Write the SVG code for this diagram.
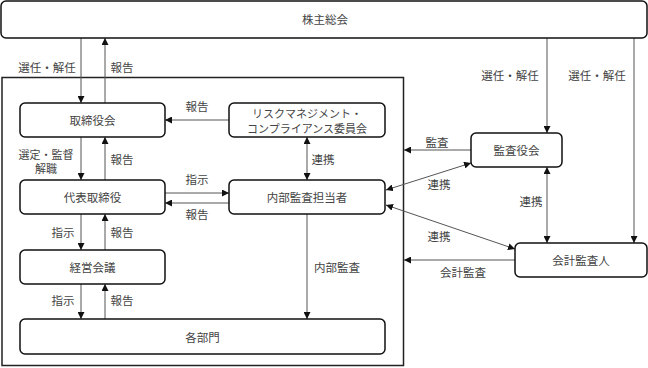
<svg xmlns="http://www.w3.org/2000/svg" width="648" height="368" viewBox="0 0 648 368">
<style>
.box{fill:#fff;stroke:#111;stroke-width:1.5}
.frame{fill:none;stroke:#222;stroke-width:1.5}
.ln{fill:none;stroke:#555;stroke-width:1}
.t{font-family:"Noto Sans CJK JP","Noto Sans CJK SC",sans-serif;font-size:11.5px;fill:#444;text-anchor:middle;dominant-baseline:central}
.s{font-size:11px}
</style>
<defs>
<marker id="ah" viewBox="0 0 10 10" refX="10" refY="5" markerWidth="7" markerHeight="7" markerUnits="userSpaceOnUse" orient="auto-start-reverse">
<path d="M0,0 L10,5 L0,10 z" fill="#111"/>
</marker>
</defs>
<rect width="648" height="368" fill="#fff"/>
<rect class="frame" x="2" y="77.5" width="401.5" height="288"/>
<g id="connectors">
<line class="ln" x1="81" y1="38" x2="81" y2="103" marker-end="url(#ah)"/>
<line class="ln" x1="105" y1="103" x2="105" y2="38" marker-end="url(#ah)"/>
<line class="ln" x1="81" y1="137" x2="81" y2="180" marker-end="url(#ah)"/>
<line class="ln" x1="105" y1="180" x2="105" y2="137" marker-end="url(#ah)"/>
<line class="ln" x1="81" y1="214" x2="81" y2="250" marker-end="url(#ah)"/>
<line class="ln" x1="105" y1="250" x2="105" y2="214" marker-end="url(#ah)"/>
<line class="ln" x1="81" y1="284" x2="81" y2="319" marker-end="url(#ah)"/>
<line class="ln" x1="105" y1="319" x2="105" y2="284" marker-end="url(#ah)"/>
<line class="ln" x1="229" y1="120" x2="165" y2="120" marker-end="url(#ah)"/>
<line class="ln" x1="165" y1="193" x2="229" y2="193" marker-end="url(#ah)"/>
<line class="ln" x1="229" y1="203" x2="165" y2="203" marker-end="url(#ah)"/>
<line class="ln" x1="307" y1="137" x2="307" y2="180" marker-start="url(#ah)" marker-end="url(#ah)"/>
<line class="ln" x1="307" y1="214" x2="307" y2="319" marker-end="url(#ah)"/>
<line class="ln" x1="547" y1="38" x2="547" y2="133" marker-end="url(#ah)"/>
<line class="ln" x1="634" y1="38" x2="634" y2="243" marker-end="url(#ah)"/>
<line class="ln" x1="471" y1="150" x2="404" y2="150" marker-end="url(#ah)"/>
<line class="ln" x1="386" y1="190" x2="471" y2="163" marker-start="url(#ah)" marker-end="url(#ah)"/>
<line class="ln" x1="547" y1="167" x2="547" y2="243" marker-start="url(#ah)" marker-end="url(#ah)"/>
<line class="ln" x1="386" y1="205" x2="515" y2="249" marker-start="url(#ah)" marker-end="url(#ah)"/>
<line class="ln" x1="515" y1="260" x2="404" y2="260" marker-end="url(#ah)"/>
<text class="t" x="47" y="67">選任・解任</text>
<text class="t" x="122" y="67">報告</text>
<text class="t" x="197" y="106">報告</text>
<text class="t s" x="46" y="153.5">選定・監督</text>
<text class="t s" x="46" y="168">解職</text>
<text class="t" x="122" y="159">報告</text>
<text class="t" x="323" y="159">連携</text>
<text class="t" x="197" y="179">指示</text>
<text class="t" x="197" y="214">報告</text>
<text class="t" x="63" y="232">指示</text>
<text class="t" x="122" y="232">報告</text>
<text class="t" x="337" y="267">内部監査</text>
<text class="t" x="63" y="300">指示</text>
<text class="t" x="122" y="300">報告</text>
<text class="t" x="510" y="75">選任・解任</text>
<text class="t" x="597" y="75">選任・解任</text>
<text class="t" x="437" y="142">監査</text>
<text class="t" x="439" y="184">連携</text>
<text class="t" x="531" y="201">連携</text>
<text class="t" x="439" y="236">連携</text>
<text class="t" x="463" y="272">会計監査</text>
</g>
<g id="n-kabunushi"><rect class="box" x="1" y="1" width="646" height="37" rx="5"/><text class="t" x="325" y="19">株主総会</text></g>
<g id="n-torishimariyakukai"><rect class="box" x="20" y="103" width="145" height="34" rx="5"/><text class="t" x="92.5" y="120">取締役会</text></g>
<g id="n-risk"><rect class="box" x="229" y="103" width="156" height="34" rx="5"/><text class="t s" x="307" y="112.5">リスクマネジメント・</text><text class="t s" x="307" y="127.5">コンプライアンス委員会</text></g>
<g id="n-daihyo"><rect class="box" x="20" y="180" width="145" height="34" rx="5"/><text class="t" x="92.5" y="197">代表取締役</text></g>
<g id="n-naibu"><rect class="box" x="229" y="180" width="156" height="34" rx="5"/><text class="t" x="307" y="197">内部監査担当者</text></g>
<g id="n-keiei"><rect class="box" x="20" y="250" width="145" height="34" rx="5"/><text class="t" x="92.5" y="267">経営会議</text></g>
<g id="n-kakubumon"><rect class="box" x="20" y="319" width="365" height="35" rx="5"/><text class="t" x="202.5" y="336.5">各部門</text></g>
<g id="n-kansayakukai"><rect class="box" x="471" y="133" width="91" height="34" rx="5"/><text class="t" x="516.5" y="150">監査役会</text></g>
<g id="n-kaikei"><rect class="box" x="515" y="243" width="132" height="34" rx="5"/><text class="t" x="581" y="260">会計監査人</text></g>
</svg>
